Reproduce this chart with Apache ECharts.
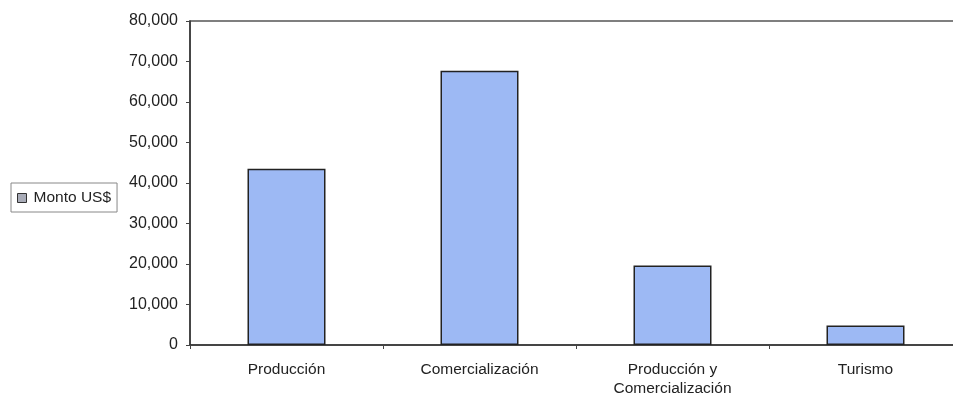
<!DOCTYPE html>
<html>
<head>
<meta charset="utf-8">
<script src="https://cdn.jsdelivr.net/npm/echarts@6/dist/echarts.min.js"></script>
<style>
    html, body { margin: 0; padding: 0; background: #fff; }
    #main { width: 953px; height: 395px; }
</style>
</head>
<body>
<div id="main"></div>
<script>
// datos
const categorias = ['Producción', 'Comercialización', 'Producción y\nComercialización', 'Turismo']
const montos = [43500, 67700, 19600, 4800]
const serieNombre = 'Monto US$'

const chart = echarts.init(document.getElementById('main'))
const fmt = (v) => v.toString().replace(/\B(?=(\d{3})+(?!\d))/g, ',')

chart.setOption({
    animation: false,
    textStyle: { fontFamily: 'Liberation Sans, Arial, sans-serif' },
    legend: {
        data: [serieNombre],
        left: 11,
        top: 183,
        orient: 'vertical',
        icon: 'rect',
        itemWidth: 9,
        itemHeight: 9,
        itemGap: 5,
        padding: [7, 6, 6, 6],
        borderColor: '#888',
        borderWidth: 1,
        itemStyle: { color: '#a9acb8', borderColor: '#333', borderWidth: 1 },
        textStyle: { fontSize: 15.5, color: '#222', padding: [0, 0, 0, 2] },
    },
    grid: {
        left: 190,
        top: 21,
        width: 772,
        height: 324,
        outerBoundsMode: 'none',
        show: true,
        borderColor: '#555',
        borderWidth: 1.5,
        backgroundColor: 'transparent',
    },
    xAxis: {
        type: 'category',
        data: categorias,
        axisLine: { lineStyle: { color: '#333', width: 1.5 } },
        axisTick: { show: true, length: 4, lineStyle: { color: '#444' } },
        axisLabel: { color: '#222', fontSize: 15.5, margin: 15, lineHeight: 19 },
    },
    yAxis: {
        type: 'value',
        min: 0,
        max: 80000,
        interval: 10000,
        splitLine: { show: false },
        axisLine: { show: true, lineStyle: { color: '#333', width: 1.5 } },
        axisTick: { show: true, length: 4, lineStyle: { color: '#444' } },
        axisLabel: { color: '#222', fontSize: 16, margin: 12, formatter: (v) => fmt(v) },
    },
    series: [
        {
            name: serieNombre,
            type: 'bar',
            data: montos,
            barWidth: 78,
            itemStyle: { color: '#9db9f4', borderColor: '#222', borderWidth: 1.5 },
        },
    ],
})
</script>
</body>
</html>
